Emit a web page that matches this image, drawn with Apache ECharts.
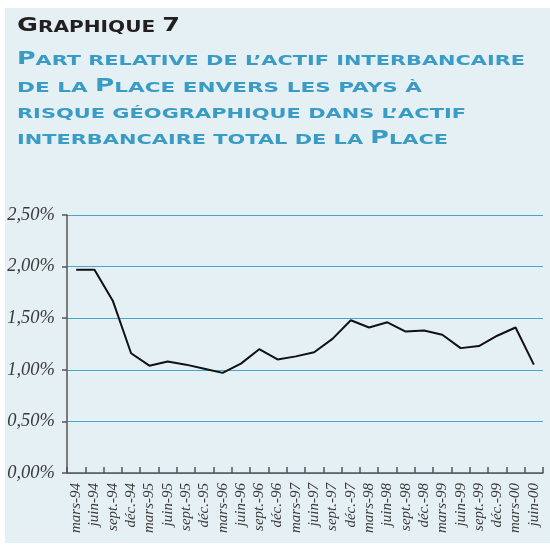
<!DOCTYPE html>
<html><head><meta charset="utf-8">
<script src="https://cdn.jsdelivr.net/npm/echarts@6/dist/echarts.min.js"></script>
<style>html,body{margin:0;padding:0;background:#fff}#c{width:550px;height:546px}</style>
</head><body><div id="c"></div>
<script>
// ---- data ----
const categories = [
  'mars-94','juin-94','sept.-94','déc.-94',
  'mars-95','juin-95','sept.-95','déc.-95',
  'mars-96','juin-96','sept.-96','déc.-96',
  'mars-97','juin-97','sept.-97','déc.-97',
  'mars-98','juin-98','sept.-98','déc.-98',
  'mars-99','juin-99','sept.-99','déc.-99',
  'mars-00','juin-00'
];
const values = [
  1.97, 1.97, 1.67, 1.16,
  1.04, 1.08, 1.05, 1.01,
  0.97, 1.06, 1.20, 1.10,
  1.13, 1.17, 1.30, 1.48,
  1.41, 1.46, 1.37, 1.38,
  1.34, 1.21, 1.23, 1.33,
  1.41, 1.05
];
const yTickLabels = ['0,00%','0,50%','1,00%','1,50%','2,00%','2,50%'];
const titleText = 'Graphique 7';
const subtitleLines = [
  'Part relative de l’actif interbancaire',
  'de la Place envers les pays à',
  'risque géographique dans l’actif',
  'interbancaire total de la Place'
];

// ---- small caps helpers ----
const FAMILY = '"DejaVu Sans"';
const mctx = document.createElement('canvas').getContext('2d');
function smallCaps(str) {
  const runs = [];
  for (const ch of str) {
    const big = (ch !== ch.toLowerCase()) || /[0-9]/.test(ch);
    const t = big ? ch : ch.toUpperCase();
    const k = big ? 'b' : 's';
    if (runs.length && runs[runs.length - 1].k === k) runs[runs.length - 1].t += t;
    else runs.push({k: k, t: t});
  }
  return runs;
}
function buildText(str, sizes, weight, targetWidth) {
  const runs = smallCaps(str);
  let w = 0;
  runs.forEach(r => {
    mctx.font = weight + ' ' + sizes[r.k] + 'px ' + FAMILY;
    w += mctx.measureText(r.t).width;
  });
  return {
    text: runs.map(r => '{' + r.k + '|' + r.t + '}').join(''),
    scale: targetWidth / w
  };
}
function textEl(str, x, y, sizes, weight, color, targetWidth) {
  const b = buildText(str, sizes, weight, targetWidth);
  const lh = sizes.b + 4;
  return {
    type: 'text', x: x, y: y, scaleX: b.scale, z: 10, silent: true,
    style: {
      text: b.text, fill: color, align: 'left', verticalAlign: 'bottom',
      rich: {
        b: {fontSize: sizes.b, fontWeight: weight, fontFamily: FAMILY, fill: color, color: color, verticalAlign: 'bottom', lineHeight: lh},
        s: {fontSize: sizes.s, fontWeight: weight, fontFamily: FAMILY, fill: color, color: color, verticalAlign: 'bottom', lineHeight: lh}
      }
    }
  };
}

const titleSizes = {b: 19, s: 15};
const subSizes = {b: 17, s: 14};
const subColor = '#3a9cc4';
const subBaselines = [68, 95, 121, 147];
const subWidths = [508, 405, 449, 431];

const graphics = [
  {type: 'rect', shape: {x: 5, y: 8, width: 545, height: 535}, style: {fill: '#e5f0f5'}, z: -1, silent: true},
  textEl(titleText, 17, 36, titleSizes, 'bold', '#231f20', 163)
];
subtitleLines.forEach((l, i) => {
  graphics.push(textEl(l, 17, subBaselines[i], subSizes, 'bold', subColor, subWidths[i]));
});

const axisColor = '#555';
const chart = echarts.init(document.getElementById('c'), null, {renderer: 'canvas'});
chart.setOption({
  animation: false,
  backgroundColor: '#ffffff',
  graphic: graphics,
  grid: {left: 67, right: 7, top: 215, bottom: 73, containLabel: false},
  xAxis: {
    type: 'category',
    data: categories,
    boundaryGap: true,
    axisLine: {lineStyle: {color: axisColor, width: 1.5}},
    axisTick: {show: true, inside: true, length: 6, interval: 0, lineStyle: {color: axisColor, width: 1.5}},
    axisLabel: {
      interval: 0, rotate: 90, margin: 10,
      fontFamily: '"Liberation Serif"', fontStyle: 'italic', fontSize: 15, color: '#3a3a3a'
    },
    splitLine: {show: false}
  },
  yAxis: {
    type: 'value',
    min: 0, max: 2.5, interval: 0.5,
    axisLine: {show: true, lineStyle: {color: axisColor, width: 1.5}},
    axisTick: {show: true, inside: false, length: 5, lineStyle: {color: axisColor, width: 1.5}},
    axisLabel: {
      margin: 12,
      fontFamily: '"Liberation Serif"', fontStyle: 'italic', fontSize: 18.5, color: '#3a3a3a',
      formatter: v => yTickLabels[Math.round(v / 0.5)]
    },
    splitLine: {show: true, lineStyle: {color: '#4aa6c9', width: 1}}
  },
  series: [{
    type: 'line',
    data: values,
    symbol: 'none',
    lineStyle: {color: '#111', width: 2},
    z: 5
  }]
});
</script>
</body></html>
